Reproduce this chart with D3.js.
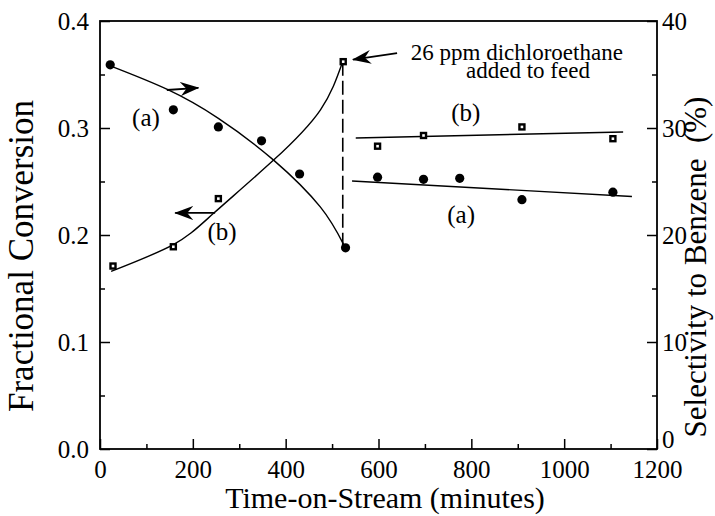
<!DOCTYPE html>
<html>
<head>
<meta charset="utf-8">
<script src="https://cdn.jsdelivr.net/npm/d3@7"></script>
<style>
  body { margin: 0; background: white; }
</style>
</head>
<body>
<div id="chart"></div>
<script>
// conversion / selectivity vs time on stream, before and after dichloroethane was added

// (a) selectivity to benzene (%), right axis
const timeA1 = [22, 158, 255, 348, 430, 529];
const selA1 = [35.9, 31.7, 30.1, 28.8, 25.7, 18.8];
const timeA2 = [598, 697, 775, 909, 1105];
const selA2 = [25.4, 25.2, 25.3, 23.3, 24.0];

// (b) fractional conversion, left axis
const timeB1 = [28, 158, 255, 524];
const convB1 = [0.171, 0.189, 0.234, 0.362];
const timeB2 = [598, 697, 909, 1105];
const convB2 = [0.283, 0.293, 0.301, 0.290];

// fitted curves
const fitTimeA1 = [22, 145, 255, 374, 475, 525];
const fitSelA1 = [35.8, 33.6, 30.9, 27.0, 22.6, 19.1];
const fitTimeB1 = [24, 158, 244, 374, 475, 522];
const fitConvB1 = [0.166, 0.191, 0.220, 0.270, 0.317, 0.361];
const fitTimeA2 = [543, 1146];
const fitSelA2 = [25.05, 23.6];
const fitTimeB2 = [551, 1127];
const fitConvB2 = [0.2907, 0.2963];

// ticks
const xTicks = [0, 200, 400, 600, 800, 1000, 1200];
const xMinor = [100, 300, 500, 700, 900, 1100];
const yLeftTicks = [0, 0.1, 0.2, 0.3, 0.4];
const yRightTicks = [0, 10, 20, 30, 40];
const yMinor = [0.05, 0.15, 0.25, 0.35];

const addTime = 523; // dichloroethane added

//----------------------------------------------------------------------

const FONT = "Liberation Serif";
const W = 715, H = 516;
const margin = { top: 21, right: 58, bottom: 67, left: 100 };
const width = W - margin.left - margin.right;
const height = H - margin.top - margin.bottom;

const svg = d3.select("#chart").append("svg")
  .attr("width", W)
  .attr("height", H);

const g = svg.append("g")
  .attr("transform", "translate(" + margin.left + "," + margin.top + ")");

const x = d3.scaleLinear().domain([0, 1200]).range([0, width]);
const yL = d3.scaleLinear().domain([0, 0.4]).range([height, 0]);
const yR = d3.scaleLinear().domain([0, 40]).range([height, 0]);

// arrow head, swept back barbs
svg.append("defs").append("marker")
  .attr("id", "head")
  .attr("viewBox", "0 -7 19 14")
  .attr("refX", 18).attr("refY", 0)
  .attr("markerWidth", 19).attr("markerHeight", 14)
  .attr("markerUnits", "userSpaceOnUse")
  .attr("orient", "auto")
  .append("path")
  .attr("d", "M0,-7 L19,0 L0,7 L6,0 Z")
  .attr("fill", "black");

// axes, ticks pointing inward
g.append("g")
  .attr("transform", "translate(0," + height + ")")
  .call(d3.axisBottom(x).tickValues(xTicks).tickFormat(d3.format("d")).tickSizeInner(-10).tickSizeOuter(0).tickPadding(11));
g.append("g")
  .attr("transform", "translate(0," + height + ")")
  .call(d3.axisBottom(x).tickValues(xMinor).tickFormat("").tickSizeInner(-5).tickSizeOuter(0));

g.append("g")
  .call(d3.axisLeft(yL).tickValues(yLeftTicks).tickFormat(d3.format(".1f")).tickSizeInner(-10).tickSizeOuter(0).tickPadding(11));
g.append("g")
  .call(d3.axisLeft(yL).tickValues(yMinor).tickFormat("").tickSizeInner(-5).tickSizeOuter(0));

const rightAxis = g.append("g")
  .attr("transform", "translate(" + width + ",0)")
  .call(d3.axisRight(yR).tickValues(yRightTicks).tickSizeInner(-10).tickSizeOuter(0).tickPadding(5));
g.append("g")
  .attr("transform", "translate(" + width + ",0)")
  .call(d3.axisRight(yL).tickValues(yMinor).tickFormat("").tickSizeInner(-5).tickSizeOuter(0));

// right "0" sits up above the 1200 label
rightAxis.selectAll(".tick text").filter(d => d === 0).attr("dy", "-0.05em");

g.selectAll(".tick text").style("font-family", FONT).style("font-size", "25px");
g.selectAll(".domain").remove();
g.selectAll(".tick line").attr("stroke-width", 1.5);

// frame
g.append("rect")
  .attr("width", width).attr("height", height)
  .attr("fill", "none").attr("stroke", "black").attr("stroke-width", 1.8);

// curves
const lineA = d3.line().x(d => x(d[0])).y(d => yR(d[1])).curve(d3.curveNatural);
const lineB = d3.line().x(d => x(d[0])).y(d => yL(d[1])).curve(d3.curveNatural);

const curves = [
  { fn: lineA, pts: d3.zip(fitTimeA1, fitSelA1) },
  { fn: lineB, pts: d3.zip(fitTimeB1, fitConvB1) },
  { fn: lineA, pts: d3.zip(fitTimeA2, fitSelA2) },
  { fn: lineB, pts: d3.zip(fitTimeB2, fitConvB2) }
];
curves.forEach(c => {
  g.append("path")
    .attr("d", c.fn(c.pts))
    .attr("fill", "none")
    .attr("stroke", "black")
    .attr("stroke-width", 1.4);
});

// dashed step where the feed changed
g.append("line")
  .attr("x1", x(addTime)).attr("x2", x(addTime))
  .attr("y1", yL(convB1[convB1.length - 1])).attr("y2", yR(selA1[selA1.length - 1]))
  .attr("stroke", "black").attr("stroke-width", 1.6)
  .attr("stroke-dasharray", "14,5");

// (a) filled circles
g.selectAll(".ptA")
  .data(d3.zip(timeA1.concat(timeA2), selA1.concat(selA2)))
  .enter().append("circle")
  .attr("class", "ptA")
  .attr("cx", d => x(d[0]))
  .attr("cy", d => yR(d[1]))
  .attr("r", 4.6)
  .attr("fill", "black");

// (b) open squares
const sq = 5;
g.selectAll(".ptB")
  .data(d3.zip(timeB1.concat(timeB2), convB1.concat(convB2)))
  .enter().append("rect")
  .attr("class", "ptB")
  .attr("x", d => x(d[0]) - sq / 2)
  .attr("y", d => yL(d[1]) - sq / 2)
  .attr("width", sq).attr("height", sq)
  .attr("fill", "white")
  .attr("stroke", "black")
  .attr("stroke-width", 2.4);

// direction arrows for which axis
function arrow(t1, v1, t2, v2, w) {
  g.append("line")
    .attr("x1", x(t1)).attr("y1", yL(v1))
    .attr("x2", x(t2)).attr("y2", yL(v2))
    .attr("stroke", "black").attr("stroke-width", w)
    .attr("marker-end", "url(#head)");
}
arrow(144, 0.3355, 212, 0.3375, 1.8);
arrow(248, 0.2206, 162, 0.2206, 1.8);
arrow(640, 0.3700, 545, 0.3640, 1.8);

// labels
function label(t, v, txt, size) {
  return g.append("text")
    .attr("x", x(t)).attr("y", yL(v))
    .attr("text-anchor", "middle")
    .style("font-family", FONT)
    .style("font-size", size + "px")
    .text(txt);
}
label(99, 0.302, "(a)", 25);
label(263, 0.195, "(b)", 25);
label(788, 0.3065, "(b)", 25);
label(778, 0.211, "(a)", 25);
label(898, 0.3635, "26 ppm dichloroethane", 23);
label(922, 0.3465, "added to feed", 23);

// axis titles
svg.append("text")
  .attr("x", 385)
  .attr("y", 508)
  .attr("text-anchor", "middle")
  .style("font-family", FONT)
  .style("font-size", "30px")
  .text("Time-on-Stream (minutes)");

svg.append("text")
  .attr("transform", "translate(33,256) rotate(-90)")
  .attr("text-anchor", "middle")
  .style("font-family", FONT)
  .style("font-size", "35px")
  .text("Fractional Conversion");

svg.append("text")
  .attr("transform", "translate(706,267) rotate(-90)")
  .attr("text-anchor", "middle")
  .style("font-family", FONT)
  .style("font-size", "31px")
  .text("Selectivity to Benzene\u00a0\u00a0(%)");
</script>
</body>
</html>
